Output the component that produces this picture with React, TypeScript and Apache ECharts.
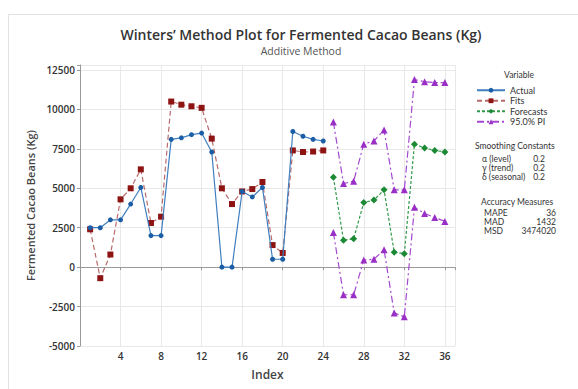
import React, { useEffect, useRef } from "react";
import * as echarts from "echarts";

const actualIdx = [1, 2, 3, 4, 5, 6, 7, 8, 9, 10, 11, 12, 13, 14, 15, 16, 17, 18, 19, 20, 21, 22, 23, 24];
const actual = [2500, 2500, 3000, 3000, 4000, 5050, 2000, 2000, 8100, 8200, 8400, 8500, 7300, 0, 0, 4800, 4450, 5050, 500, 500, 8600, 8300, 8100, 8000];
const fits = [2400, -700, 800, 4300, 5000, 6200, 2800, 3200, 10500, 10300, 10200, 10100, 8150, 5000, 4000, 4800, 4950, 5400, 1400, 900, 7400, 7300, 7330, 7400];
const forecastIdx = [25, 26, 27, 28, 29, 30, 31, 32, 33, 34, 35, 36];
const forecasts = [5700, 1700, 1800, 4100, 4250, 4900, 950, 850, 7800, 7550, 7400, 7300];
const upperPI = [9200, 5300, 5450, 7800, 8000, 8700, 4900, 4900, 11900, 11750, 11700, 11700];
const lowerPI = [2200, -1750, -1750, 450, 500, 1100, -2900, -3150, 3800, 3400, 3150, 2900];

const smoothing = [
  ["α (level)", "0.2"],
  ["γ (trend)", "0.2"],
  ["δ (seasonal)", "0.2"],
];
const accuracy = [
  ["MAPE", "36"],
  ["MAD", "1432"],
  ["MSD", "3474020"],
];

const FONT = "'Open Sans', 'Noto Sans', sans-serif";
const SMALL = "Lato, 'Open Sans', sans-serif";

const pairs = (xs: number[], ys: number[]) => xs.map((x, i) => [x, ys[i]]);

export default function App() {
  const ref = useRef<HTMLDivElement>(null);
  useEffect(() => {
    if (!ref.current) return;
    const chart = echarts.init(ref.current, undefined, { renderer: "svg" });
    const txt = (x: number, y: number, text: string, opts: any = {}) => ({
      type: "text",
      x,
      y,
      style: {
        text,
        fill: "#333",
        font: `8.5px ${SMALL}`,
        lineHeight: 8,
        textVerticalAlign: "middle",
        ...opts,
      },
    });
    const graphics: any[] = [
      {
        type: "rect",
        shape: { x: 8.5, y: 14.5, width: 600, height: 400 },
        style: { fill: "none", stroke: "#e2e2e2", lineWidth: 1 },
        silent: true,
      },
      txt(504, 75, "Variable"),
      txt(475, 146, "Smoothing Constants"),
      txt(481, 202, "Accuracy Measures"),
    ];
    smoothing.forEach((r, i) => {
      graphics.push(txt(482, 159 + i * 9, r[0]));
      graphics.push(txt(545, 159 + i * 9, r[1], { textAlign: "right" }));
    });
    accuracy.forEach((r, i) => {
      graphics.push(txt(484, 213 + i * 9, r[0]));
      graphics.push(txt(556, 213 + i * 9, r[1], { textAlign: "right" }));
    });

    chart.setOption({
      animation: false,
      backgroundColor: "#fff",
      title: {
        text: "Winters’ Method Plot for Fermented Cacao Beans (Kg)",
        subtext: "Additive Method",
        left: 296,
        textAlign: "center",
        top: 21,
        itemGap: 3,
        textStyle: { fontFamily: FONT, fontSize: 14, fontWeight: 600, color: "#333", lineHeight: 16 },
        subtextStyle: { fontFamily: FONT, fontSize: 10.5, color: "#555", lineHeight: 12 },
      },
      grid: { left: 80, right: 123, top: 65, bottom: 43 },
      legend: {
        orient: "vertical",
        left: 471,
        top: 80,
        itemWidth: 28,
        itemHeight: 6,
        itemGap: 0,
        textStyle: { fontFamily: SMALL, fontSize: 9, lineHeight: 10.5, color: "#333" },
        data: ["Actual", "Fits", "Forecasts", "95.0% PI"],
      },
      xAxis: {
        type: "value",
        min: 0,
        max: 37,
        interval: 4,
        name: "Index",
        nameLocation: "middle",
        nameGap: 22,
        nameTextStyle: { fontFamily: FONT, fontSize: 12, fontWeight: 600, color: "#444" },
        axisLine: { lineStyle: { color: "#999" } },
        axisTick: { show: true, length: 3, lineStyle: { color: "#999" } },
        axisLabel: {
          fontFamily: FONT,
          fontSize: 10,
          fontWeight: 600,
          color: "#333",
          margin: 5,
          formatter: (v: number) => (v > 0 && v % 4 === 0 ? String(v) : ""),
        },
        splitLine: { show: true, lineStyle: { color: "#e8e8e8" } },
      },
      yAxis: {
        type: "value",
        min: -5000,
        max: 12817,
        interval: 2500,
        name: "Fermented Cacao Beans (Kg)",
        nameLocation: "middle",
        nameGap: 42,
        nameTextStyle: { fontFamily: FONT, fontSize: 11, fontWeight: 600, color: "#444" },
        axisLine: { show: true, lineStyle: { color: "#999" } },
        axisTick: { show: true, length: 3, lineStyle: { color: "#999" } },
        axisLabel: {
          fontFamily: FONT,
          fontSize: 10,
          fontWeight: 600,
          color: "#333",
          margin: 5,
          formatter: (v: number) => (v % 2500 === 0 ? String(v) : ""),
        },
        splitLine: { show: true, lineStyle: { color: "#e8e8e8" } },
      },
      graphic: graphics,
      series: [
        {
          name: "Actual",
          type: "line",
          data: pairs(actualIdx, actual),
          symbol: "circle",
          symbolSize: 5,
          itemStyle: { color: "#1b5ea6" },
          lineStyle: { color: "#3f7fc0", width: 1.2 },
          z: 4,
        },
        {
          name: "Fits",
          type: "line",
          data: pairs(actualIdx, fits),
          symbol: "rect",
          symbolSize: 6,
          itemStyle: { color: "#8e1414" },
          lineStyle: { color: "#b86a6a", width: 1.2, type: [5, 3] },
          z: 3,
        },
        {
          name: "Forecasts",
          type: "line",
          data: pairs(forecastIdx, forecasts),
          symbol: "diamond",
          symbolSize: 7,
          itemStyle: { color: "#1c8a35" },
          lineStyle: { color: "#2f9a48", width: 1.2, type: [3, 2] },
          z: 3,
        },
        {
          name: "95.0% PI",
          type: "line",
          data: pairs(forecastIdx, upperPI),
          symbol: "triangle",
          symbolSize: 7,
          itemStyle: { color: "#9a2fc6" },
          lineStyle: { color: "#a548d0", width: 1.2, type: [7, 3, 2, 3] },
          z: 3,
        },
        {
          name: "95.0% PI",
          type: "line",
          data: pairs(forecastIdx, lowerPI),
          symbol: "triangle",
          symbolSize: 7,
          itemStyle: { color: "#9a2fc6" },
          lineStyle: { color: "#a548d0", width: 1.2, type: [7, 3, 2, 3] },
          z: 3,
        },
      ],
    });
    return () => chart.dispose();
  }, []);
  return (
    <div
      ref={ref}
      style={{ position: "fixed", left: 0, top: 0, width: 578, height: 389, background: "#fff" }}
    />
  );
}
